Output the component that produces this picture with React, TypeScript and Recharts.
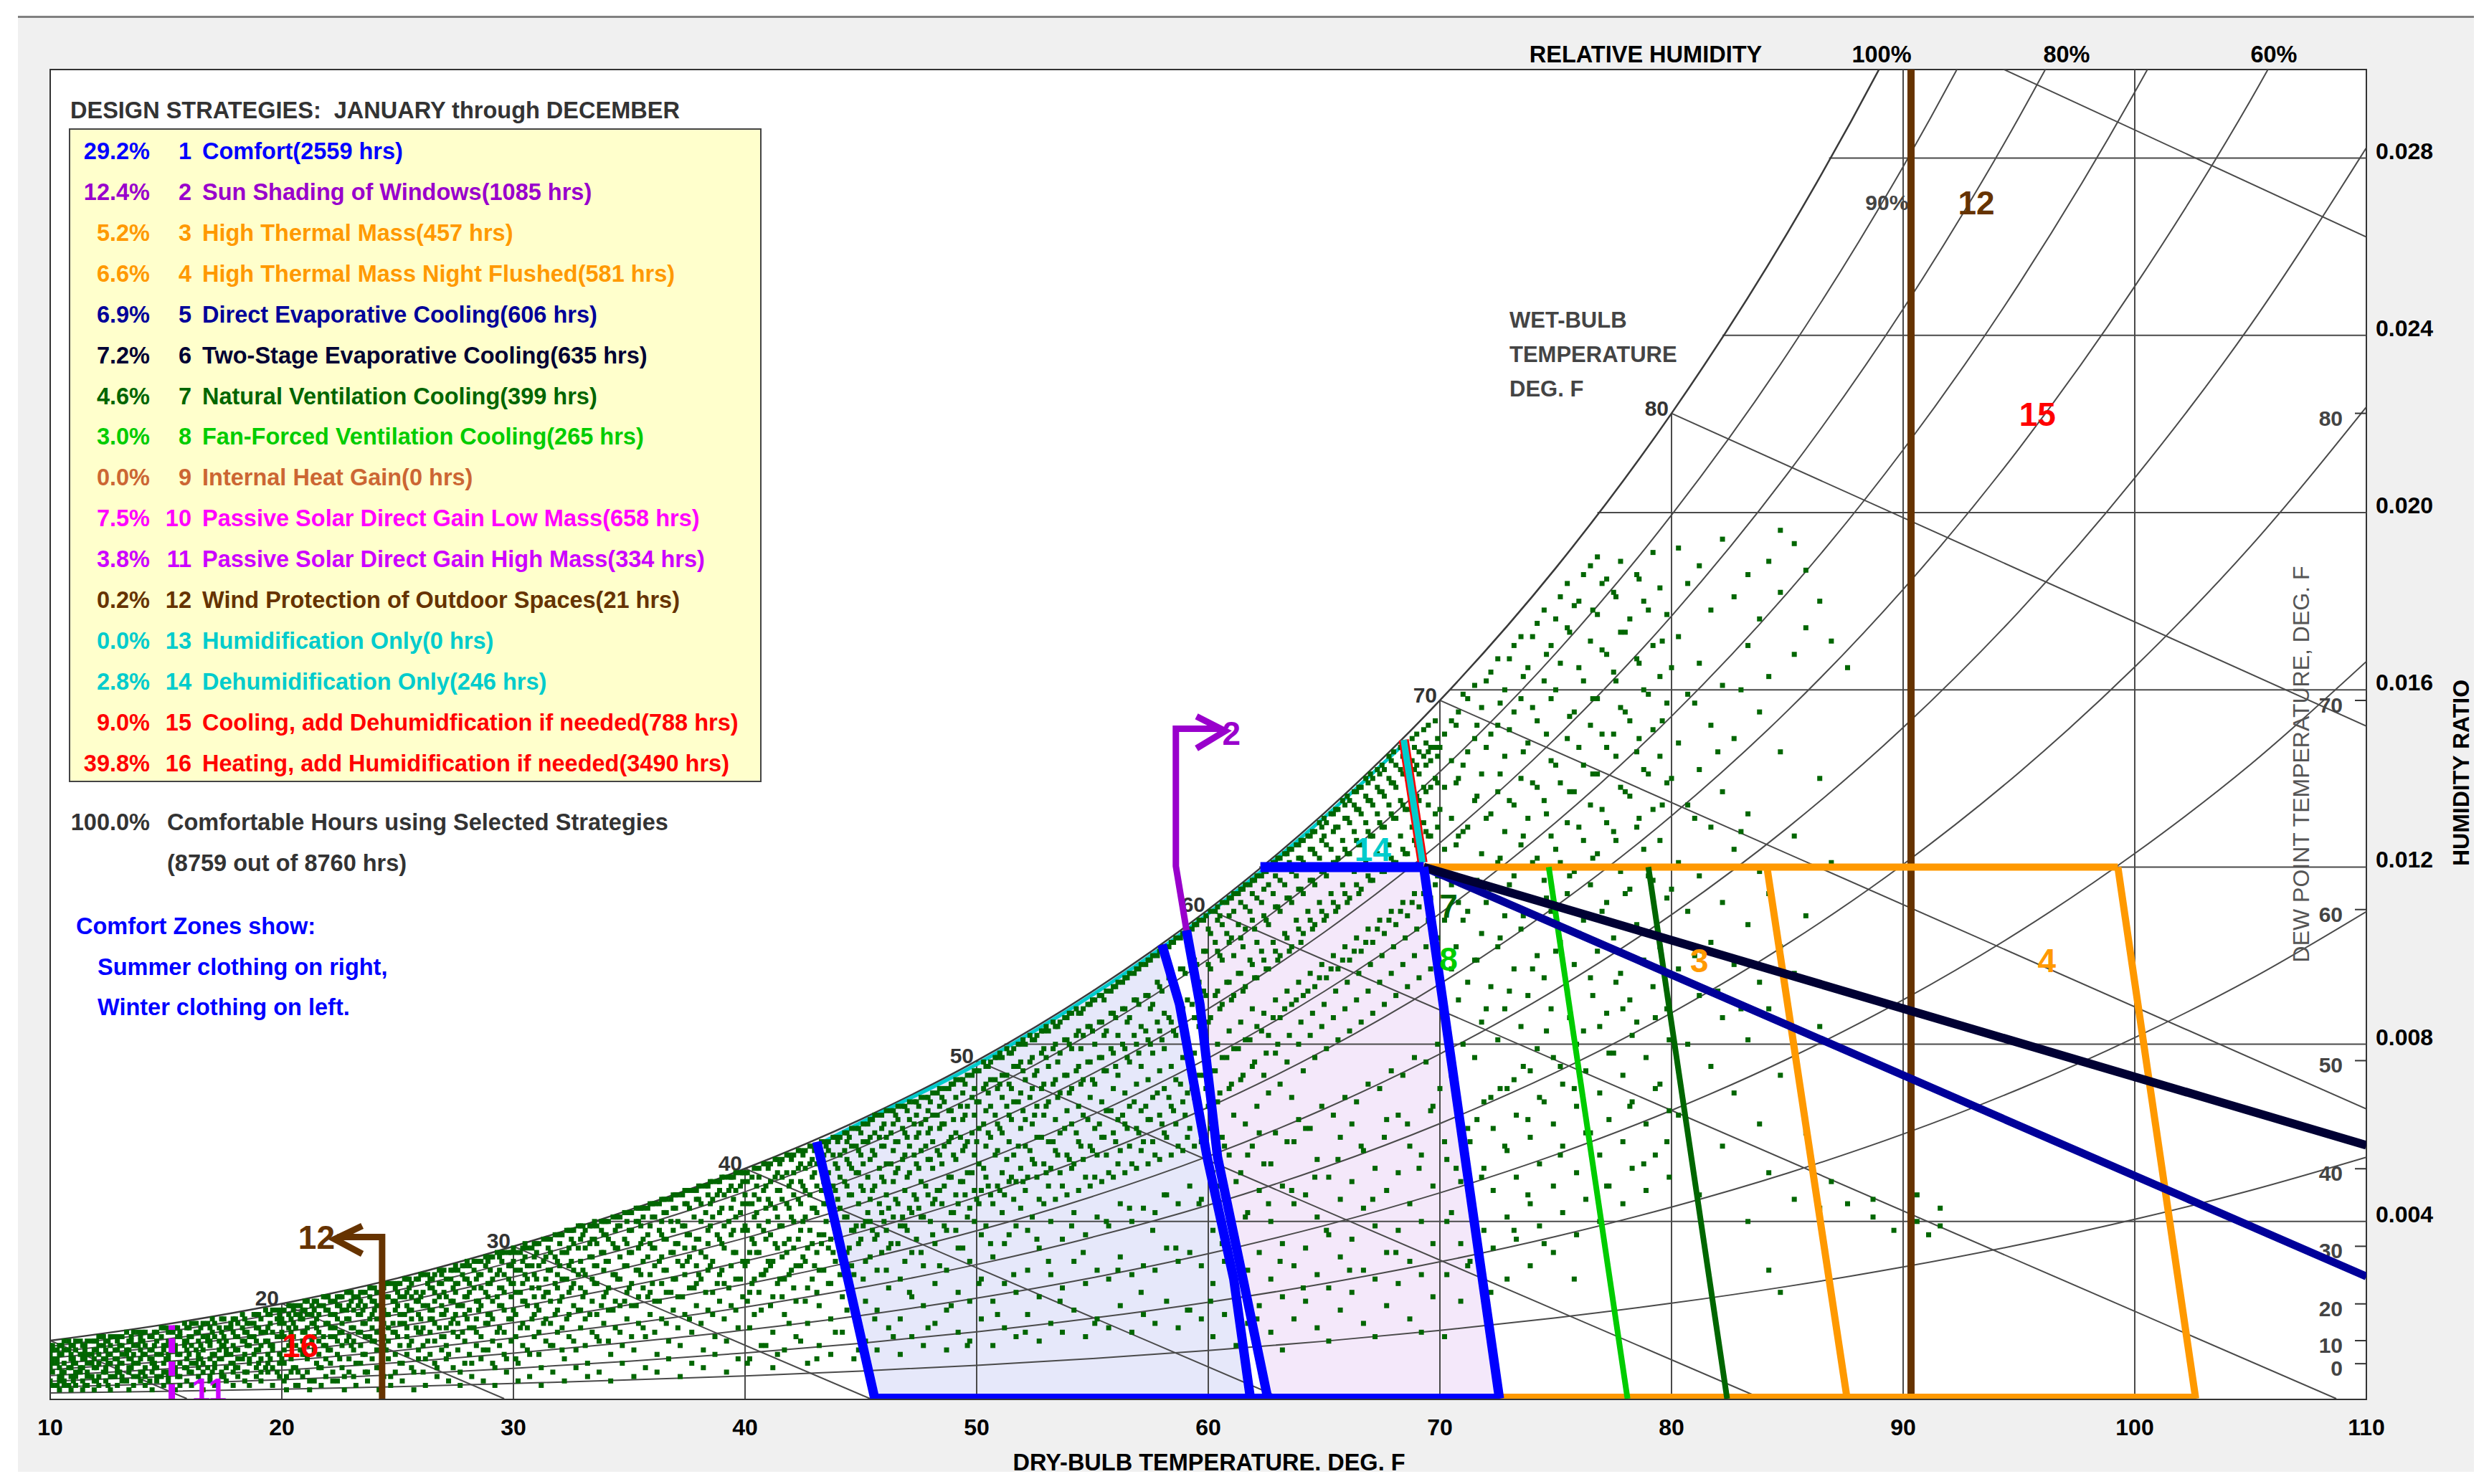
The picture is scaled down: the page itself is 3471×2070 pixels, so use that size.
import React from 'react';
import { ComposedChart, Scatter, XAxis, YAxis, Curve } from 'recharts';

const FONT = '"Liberation Sans", Arial, Helvetica, sans-serif';

// axes
const dryBulbTicks = [10, 20, 30, 40, 50, 60, 70, 80, 90, 100, 110];
const humidityTicks = [0.004, 0.008, 0.012, 0.016, 0.02, 0.024, 0.028];

// dew point scale on the right edge
const dewPointTemps = [0, 10, 20, 30, 40, 50, 60, 70, 80];
const dewPointRatios = [0.00079, 0.00131, 0.00214, 0.00344, 0.00519, 0.00763, 0.01104, 0.01576, 0.02224];

// saturation pressure table (psia) for the relative humidity curves
const tableTemps = [10, 15, 20, 25, 30, 35, 40, 45, 50, 55, 60, 65, 70, 75, 80, 85, 90, 95, 100, 105, 110];
const satPressure = [0.0309, 0.0396, 0.0505, 0.064, 0.0808, 0.0999, 0.1217, 0.1475, 0.178, 0.2141, 0.2563, 0.3057,
  0.3632, 0.43, 0.5073, 0.5964, 0.6988, 0.8162, 0.9503, 1.1022, 1.2763];
const rhLevels = [10, 20, 30, 40, 50, 60, 70, 80, 90];

// grid lines
const dryBulbGrid = [20, 30, 40, 50, 60, 70, 80, 90, 100];
const ratioLineStart = [33.4, 51.2, 62.2, 70.4, 76.8, 82.2, 86.8];
const wetBulbTemps = [10, 20, 30, 40, 50, 60, 70, 80, 90];
const wetBulbEnds = [[15.9, 0], [29.6, 0], [45.4, 0], [63.2, 0], [83.9, 0], [108.7, 0], [110, 0.00654], [110, 0.01518], [110, 0.02622]];
const wetBulbLabels = [20, 30, 40, 50, 60, 70, 80];

// comfort zones
const winterLeft = [[43.1, 0.0058], [45.6, 0]];
const winterRight = [[58.0, 0.01025], [58.76, 0.0089], [59.95, 0.00545], [61.1, 0.0027], [61.82, 0]];
const winterSatEdge = [[43.1, 0.0058], [45, 0.00631], [50, 0.00763], [55, 0.0092], [58.0, 0.01025]];
const summerLeft = [[59.06, 0.01057], [59.64, 0.0089], [60.4, 0.00545], [61.5, 0.0027], [62.57, 0]];
const summerSatEdge = [[59.06, 0.01057], [60, 0.01104], [62.25, 0.012]];
const summerTop = [[62.25, 0.012], [69.3, 0.012]];
const summerRight = [[69.3, 0.012], [72.57, 0]];
const comfortBase = [[45.6, 0], [72.57, 0]];
const dehumidEdge = [[43.1, 0.0058], [45, 0.00631], [50, 0.00763], [55, 0.0092], [60, 0.01104], [65, 0.01321], [68.44, 0.01487]];
const dehumidBand = [[68.44, 0.01487], [69.25, 0.0121]];

// strategy boundaries
const shadingLine = [[59.06, 0.01057], [58.6, 0.01202], [58.6, 0.01512], [60.5, 0.01512]];
const shadingHead = [[59.49, 0.0154], [60.73, 0.01507], [59.49, 0.01468]];
const windLine = [[90.34, 0], [90.34, 0.03]];
const windArrow = [[24.33, 0], [24.33, 0.00365], [22.4, 0.00365]];
const windHead = [[23.47, 0.0039], [22.28, 0.0036], [23.47, 0.00327]];
const solarLine = [[15.25, 0], [15.25, 0.00166]];
const massTop = [[69.3, 0.012], [99.27, 0.012]];
const massRight = [[84.12, 0.012], [87.58, 0]];
const flushRight = [[99.27, 0.012], [102.63, 0]];
const massBase = [[72.57, 0], [102.63, 0]];
const directEvap = [[69.3, 0.012], [110, 0.00276]];
const twoStageEvap = [[69.3, 0.012], [110, 0.00572]];
const naturalVent = [[79.0, 0.012], [82.4, 0]];
const fanVent = [[74.7, 0.012], [78.1, 0]];

// zone numbers on the chart
const zoneLabelText = ['2', '3', '4', '7', '8', '12', '12', '14', '15', '16', '11'];
const zoneLabelAt = [[61.0, 0.01502], [81.2, 0.0099], [96.2, 0.0099], [70.37, 0.01112], [70.37, 0.00993], [93.16, 0.027],
  [21.5, 0.00365], [67.1, 0.0124], [95.8, 0.02223], [20.8, 0.0012], [16.87, 0.0002]];
const zoneLabelColor = ['#9900CC', '#FF9900', '#FF9900', '#006600', '#00CC00', '#663300', '#663300', '#00CCCC', '#FF0000', '#FF0000', '#CC00FF'];

// legend
const strategyNames = ['Comfort', 'Sun Shading of Windows', 'High Thermal Mass', 'High Thermal Mass Night Flushed',
  'Direct Evaporative Cooling', 'Two-Stage Evaporative Cooling', 'Natural Ventilation Cooling', 'Fan-Forced Ventilation Cooling',
  'Internal Heat Gain', 'Passive Solar Direct Gain Low Mass', 'Passive Solar Direct Gain High Mass', 'Wind Protection of Outdoor Spaces',
  'Humidification Only', 'Dehumidification Only', 'Cooling, add Dehumidfication if needed', 'Heating, add Humidification if needed'];
const strategyHours = [2559, 1085, 457, 581, 606, 635, 399, 265, 0, 658, 334, 21, 0, 246, 788, 3490];
const strategyPercent = ['29.2%', '12.4%', '5.2%', '6.6%', '6.9%', '7.2%', '4.6%', '3.0%', '0.0%', '7.5%', '3.8%', '0.2%', '0.0%', '2.8%', '9.0%', '39.8%'];
const strategyColors = ['#0000FF', '#9900CC', '#FF9900', '#FF9900', '#000099', '#000033', '#006600', '#00CC00', '#CC6633',
  '#FF00FF', '#CC00FF', '#663300', '#00CCCC', '#00CCCC', '#FF0000', '#FF0000'];

// hourly weather points: [dry-bulb, humidity ratio x 10000 ...]
const cloudCold = [
  [10.1, 3, 6, 9, 11, 12, 8], [10.4, 2, 5, 7, 10, 12, 4], [10.6, 4, 6, 8, 11, 13, 3], [10.9, 2, 5, 9, 10, 12, 7],
  [11.1, 3, 6, 8, 11, 13, 5], [11.4, 2, 4, 7, 9, 12, 10], [11.6, 5, 6, 8, 10, 13, 3], [11.9, 2, 4, 7, 9, 11, 13],
  [12.1, 3, 5, 8, 10, 12, 14], [12.4, 4, 6, 7, 9, 11, 13], [12.6, 2, 5, 8, 10, 12, 14], [12.9, 3, 6, 7, 9, 11, 13],
  [13.1, 4, 5, 8, 10, 12, 14], [13.4, 2, 6, 7, 9, 11, 13], [13.6, 3, 5, 8, 10, 12, 15], [13.9, 4, 6, 9, 11, 13, 14],
  [14.1, 3, 5, 7, 10, 12, 15], [14.4, 2, 6, 8, 9, 11, 14], [14.6, 4, 5, 7, 10, 13, 15], [14.9, 3, 6, 8, 11, 12, 16],
  [15.1, 4, 5, 9, 10, 13, 15], [15.4, 2, 6, 7, 11, 12, 16], [15.6, 3, 5, 8, 10, 14, 15], [15.9, 4, 7, 9, 11, 13, 16],
  [16.1, 3, 6, 8, 12, 14, 17], [16.4, 5, 7, 9, 10, 13, 15], [16.6, 2, 6, 8, 11, 14, 17], [16.9, 4, 5, 9, 12, 13, 16],
  [17.1, 3, 7, 8, 10, 14, 17], [17.4, 5, 6, 9, 12, 15, 18], [17.6, 4, 7, 10, 11, 13, 16], [17.9, 3, 6, 8, 12, 15, 18],
  [18.1, 5, 7, 9, 11, 14, 17], [18.4, 4, 6, 10, 13, 15, 18], [18.6, 3, 8, 9, 12, 14, 17], [18.9, 5, 7, 11, 13, 16, 19],
  [19.1, 4, 6, 9, 12, 15, 18], [19.4, 6, 8, 10, 13, 16, 19], [19.6, 3, 7, 11, 12, 15, 20], [19.9, 5, 8, 10, 14, 17, 19],
  [10.0, 4, 7, 10, 12], [10.3, 3, 8, 9, 11], [10.5, 5, 6, 10, 12], [10.8, 3, 7, 11, 13],
  [11.0, 4, 8, 9, 12], [11.3, 6, 7, 10, 13], [11.5, 3, 9, 11, 12], [11.8, 5, 8, 10, 13],
  [12.0, 4, 7, 11, 13], [12.3, 6, 9, 12, 14], [12.5, 3, 8, 10, 13], [12.8, 5, 9, 11, 14],
  [13.0, 6, 8, 12, 14], [13.3, 4, 10, 11, 15], [13.5, 7, 9, 13, 14], [13.8, 5, 8, 12, 15],
  [14.0, 6, 10, 13, 15], [14.3, 4, 9, 11, 14], [14.5, 7, 8, 12, 15], [14.8, 5, 10, 14, 16],
  [15.0, 6, 9, 12, 16], [15.3, 8, 11, 13, 15], [15.5, 5, 10, 14, 16], [15.8, 7, 12, 13, 17],
  [16.0, 6, 10, 14, 16], [16.3, 8, 11, 15, 17], [16.5, 4, 9, 12, 16], [16.8, 7, 13, 14, 17],
  [17.0, 6, 10, 15, 18], [17.3, 9, 11, 13, 16], [17.5, 5, 12, 14, 18], [17.8, 8, 10, 16, 17],
  [18.0, 7, 11, 14, 18], [18.3, 9, 13, 16, 19], [18.5, 6, 12, 15, 17], [18.8, 10, 14, 17, 19],
  [19.0, 8, 11, 16, 19], [19.3, 7, 13, 15, 20], [19.5, 9, 12, 17, 19], [19.8, 6, 14, 18, 20],
];
const cloudCool = [
  [20.1, 4, 8, 11, 14, 17, 20], [20.4, 6, 9, 13, 15, 18, 21], [20.6, 3, 7, 12, 16, 19, 21], [20.9, 5, 10, 13, 15, 18, 20],
  [21.1, 6, 9, 12, 16, 19, 22], [21.4, 4, 11, 14, 17, 20, 22], [21.6, 7, 10, 13, 15, 19, 21], [21.9, 5, 9, 12, 17, 20, 23],
  [22.1, 8, 11, 14, 16, 19, 22], [22.4, 4, 10, 13, 18, 21, 23], [22.6, 7, 12, 15, 17, 20, 23], [22.9, 6, 9, 14, 18, 21, 24],
  [23.1, 5, 11, 13, 16, 20, 23], [23.4, 8, 12, 15, 19, 22, 24], [23.6, 6, 10, 14, 17, 21, 24], [23.9, 9, 13, 16, 19, 22, 25],
  [24.1, 7, 11, 15, 18, 21, 24], [24.4, 5, 12, 14, 17, 20, 25], [24.6, 9, 13, 16, 19, 23, 26], [24.9, 6, 10, 15, 20, 22, 25],
  [25.1, 8, 12, 17, 19, 23, 26], [25.4, 10, 14, 16, 21, 24, 27], [25.6, 7, 13, 18, 20, 23, 26], [25.9, 9, 11, 15, 19, 22, 27],
  [26.1, 6, 12, 16, 21, 24, 28], [26.4, 10, 15, 18, 20, 25, 27], [26.6, 8, 13, 17, 22, 24, 28], [26.9, 11, 14, 19, 21, 26, 28],
  [27.1, 9, 12, 16, 20, 23, 27], [27.4, 7, 15, 18, 22, 25, 29], [27.6, 11, 14, 17, 21, 26, 29], [27.9, 8, 13, 19, 23, 27, 30],
  [28.1, 10, 16, 20, 24, 26, 30], [28.4, 12, 15, 18, 22, 27, 31], [28.6, 9, 14, 21, 25, 28, 31], [28.9, 11, 17, 19, 23, 26, 31],
  [29.1, 8, 13, 18, 22, 27, 32], [29.4, 12, 16, 21, 25, 29, 32], [29.6, 10, 15, 20, 24, 28, 33], [29.9, 13, 18, 23, 26, 30, 33],
  [30.1, 9, 14, 19, 24, 29, 33], [30.4, 12, 17, 22, 26, 31, 34], [30.6, 11, 16, 21, 27, 30, 34], [30.9, 14, 19, 23, 28, 32, 35],
  [31.1, 10, 15, 20, 25, 30, 35], [31.4, 13, 18, 24, 27, 32, 36], [31.6, 12, 17, 22, 29, 33, 36], [31.9, 15, 20, 25, 28, 31, 37],
  [32.1, 11, 16, 23, 27, 33, 37], [32.4, 14, 19, 24, 30, 34, 38], [32.6, 13, 21, 26, 29, 35, 38], [32.9, 16, 20, 25, 31, 36, 39],
  [33.1, 12, 18, 24, 28, 34, 38], [33.4, 15, 22, 27, 32, 36, 39], [33.6, 14, 19, 26, 30, 35, 39], [33.9, 17, 23, 29, 33, 37, 40],
  [34.1, 13, 20, 25, 31, 36, 40], [34.4, 16, 22, 28, 34, 38, 41], [34.6, 15, 21, 27, 32, 39, 41], [34.9, 18, 24, 30, 35, 40, 42],
  [35.1, 14, 21, 26, 33, 38, 42], [35.4, 17, 23, 29, 34, 40, 43], [35.6, 16, 25, 31, 36, 41, 43], [35.9, 19, 24, 28, 35, 39, 44],
  [36.1, 15, 22, 30, 34, 41, 44], [36.4, 18, 26, 32, 37, 40, 45], [36.6, 17, 24, 29, 36, 42, 45], [36.9, 20, 27, 33, 38, 43, 46],
  [37.1, 16, 23, 31, 35, 40, 46], [37.4, 19, 28, 34, 39, 44, 47], [37.6, 18, 25, 32, 37, 43, 47], [37.9, 21, 26, 30, 36, 45, 47],
  [38.1, 17, 27, 33, 40, 44, 48], [38.4, 20, 29, 35, 38, 46, 48], [38.6, 19, 24, 31, 41, 45, 49], [38.9, 22, 28, 36, 42, 47, 49],
  [39.1, 18, 26, 34, 39, 46, 50], [39.4, 21, 30, 37, 43, 48, 50], [39.6, 20, 27, 33, 41, 47, 51], [39.9, 23, 31, 38, 44, 49, 51],
  [20.0, 9, 15, 18, 20], [20.3, 12, 16, 19, 21], [20.5, 7, 14, 17, 20], [20.8, 11, 18, 19, 21],
  [21.0, 10, 15, 20, 22], [21.3, 13, 17, 19, 21], [21.5, 8, 16, 18, 22], [21.8, 12, 14, 21, 23],
  [22.0, 11, 17, 20, 23], [22.3, 14, 16, 19, 22], [22.5, 9, 15, 21, 23], [22.8, 13, 18, 20, 24],
  [23.0, 12, 16, 22, 24], [23.3, 15, 19, 21, 23], [23.5, 10, 17, 20, 24], [23.8, 14, 18, 23, 25],
  [24.0, 13, 20, 22, 25], [24.3, 16, 18, 21, 24], [24.5, 11, 19, 23, 26], [24.8, 15, 17, 22, 26],
  [25.0, 14, 21, 24, 26], [25.3, 17, 19, 23, 27], [25.5, 12, 20, 25, 27], [25.8, 16, 22, 24, 27],
  [26.0, 15, 18, 23, 28], [26.3, 13, 21, 26, 28], [26.5, 18, 20, 25, 27], [26.8, 16, 23, 26, 29],
  [27.0, 14, 19, 24, 29], [27.3, 17, 22, 27, 29], [27.5, 19, 24, 26, 30], [27.8, 15, 21, 28, 30],
  [28.0, 18, 23, 27, 31], [28.3, 16, 25, 29, 31], [28.5, 20, 22, 28, 31], [28.8, 17, 24, 30, 32],
  [29.0, 19, 26, 29, 32], [29.3, 15, 23, 28, 33], [29.5, 21, 25, 31, 33], [29.8, 18, 27, 30, 33],
  [30.0, 20, 26, 31, 34], [30.3, 16, 24, 29, 33], [30.5, 22, 28, 32, 35], [30.8, 18, 25, 30, 34],
  [31.0, 21, 27, 33, 35], [31.3, 17, 23, 31, 36], [31.5, 24, 29, 34, 36], [31.8, 19, 26, 32, 37],
  [32.0, 22, 30, 35, 37], [32.3, 18, 27, 33, 38], [32.5, 25, 31, 36, 38], [32.8, 20, 28, 34, 39],
  [33.0, 23, 29, 37, 39], [33.3, 19, 32, 35, 39], [33.5, 26, 30, 36, 40], [33.8, 21, 33, 38, 40],
  [34.0, 24, 31, 37, 40], [34.3, 20, 28, 35, 41], [34.5, 27, 34, 39, 41], [34.8, 22, 30, 36, 42],
  [35.0, 25, 33, 38, 42], [35.3, 21, 29, 40, 43], [35.5, 28, 35, 39, 43], [35.8, 23, 32, 37, 43],
  [36.0, 26, 34, 41, 44], [36.3, 22, 31, 38, 44], [36.5, 29, 36, 42, 45], [36.8, 24, 33, 40, 45],
  [37.0, 27, 35, 43, 46], [37.3, 23, 30, 39, 46], [37.5, 31, 37, 44, 47], [37.8, 25, 34, 41, 47],
  [38.0, 28, 36, 45, 48], [38.3, 24, 32, 42, 48], [38.5, 30, 39, 44, 49], [38.8, 26, 37, 46, 49],
  [39.0, 29, 35, 43, 50], [39.3, 25, 40, 47, 50], [39.5, 33, 38, 45, 50], [39.8, 27, 42, 48, 51],
];
const cloudMild = [
  [40.1, 8, 22, 31, 38, 44, 49, 51], [40.4, 19, 27, 35, 41, 46, 52], [40.6, 24, 33, 39, 45, 50, 52], [40.9, 12, 29, 36, 43, 48, 53],
  [41.1, 21, 30, 37, 44, 49, 53], [41.4, 10, 26, 34, 41, 47, 51, 54], [41.6, 23, 32, 39, 45, 50, 54], [41.9, 17, 28, 36, 43, 48, 55],
  [42.1, 25, 34, 40, 46, 51, 55], [42.4, 13, 30, 38, 44, 49, 53, 56], [42.6, 22, 31, 41, 47, 52, 56], [42.9, 27, 35, 43, 50, 54, 57],
  [43.1, 9, 24, 33, 42, 48, 53, 57], [43.4, 29, 37, 44, 49, 55, 58], [43.6, 26, 34, 45, 51, 56, 58], [43.9, 15, 31, 39, 47, 53, 59],
  [44.1, 28, 36, 43, 50, 55, 59], [44.4, 20, 33, 41, 48, 54, 58, 60], [44.6, 30, 38, 46, 52, 57, 61], [44.9, 11, 35, 44, 51, 56, 61],
  [45.1, 27, 39, 47, 53, 58, 62], [45.4, 32, 40, 45, 54, 59, 63], [45.6, 18, 36, 48, 55, 60, 64], [45.9, 33, 42, 50, 57, 61, 64],
  [46.1, 29, 38, 46, 53, 59, 65], [46.4, 14, 41, 49, 56, 62, 65], [46.6, 35, 44, 52, 58, 63, 66], [46.9, 31, 39, 47, 55, 60, 66],
  [47.1, 24, 43, 51, 57, 63, 67], [47.4, 36, 45, 53, 59, 64, 67], [47.6, 33, 41, 49, 56, 62, 68], [47.9, 16, 46, 54, 60, 65, 68],
  [48.1, 37, 44, 52, 58, 64, 69], [48.4, 30, 47, 55, 61, 66, 70], [48.6, 39, 48, 57, 62, 67, 70], [48.9, 21, 42, 50, 59, 65, 71],
  [49.1, 38, 46, 54, 60, 68, 72], [49.4, 34, 49, 56, 63, 69, 72], [49.6, 12, 41, 51, 58, 66, 73], [49.9, 40, 47, 55, 64, 70, 74],
  [50.1, 26, 44, 53, 61, 67, 74], [50.4, 39, 50, 57, 65, 71, 75], [50.6, 35, 46, 59, 66, 72, 76], [50.9, 19, 48, 56, 62, 70, 77],
  [51.1, 42, 51, 60, 68, 73, 77], [51.4, 37, 49, 58, 64, 71, 78], [51.6, 28, 45, 55, 67, 75, 79], [51.9, 43, 52, 61, 69, 76, 80],
  [52.1, 15, 47, 57, 63, 72, 80], [52.4, 41, 54, 62, 70, 77, 81], [52.6, 36, 50, 59, 66, 74, 82], [52.9, 44, 53, 64, 71, 79, 83],
  [53.1, 31, 48, 58, 67, 75, 83], [53.4, 45, 56, 63, 72, 80, 84], [53.6, 22, 51, 60, 69, 78, 85], [53.9, 46, 55, 65, 73, 81, 86],
  [54.1, 39, 52, 62, 70, 79, 87], [54.4, 47, 58, 66, 75, 83, 87], [54.6, 33, 54, 64, 72, 82, 88], [54.9, 48, 57, 68, 76, 84, 89],
  [55.1, 17, 50, 61, 71, 80, 90], [55.4, 49, 59, 67, 77, 85, 91], [55.6, 40, 55, 65, 74, 83, 92], [55.9, 50, 60, 70, 78, 87, 93],
  [56.1, 29, 53, 63, 73, 82, 94], [56.4, 51, 62, 69, 79, 88, 95], [56.6, 43, 57, 66, 76, 86, 96], [56.9, 52, 61, 71, 80, 90, 97],
  [57.1, 24, 56, 65, 75, 84, 98], [57.4, 53, 63, 72, 81, 91, 99], [57.6, 38, 58, 68, 78, 89, 100], [57.9, 54, 64, 74, 83, 93, 101],
  [58.1, 46, 60, 70, 79, 87, 102], [58.4, 55, 66, 75, 85, 95, 103], [58.6, 34, 62, 72, 82, 92, 104], [58.9, 56, 67, 77, 88, 97, 105],
  [59.1, 20, 59, 69, 80, 90, 106], [59.4, 57, 68, 78, 86, 99, 107], [59.6, 44, 63, 73, 84, 94, 108], [59.9, 58, 70, 81, 91, 101, 109],
  [40.0, 30, 39, 46, 51], [40.3, 26, 36, 44, 50], [40.5, 33, 42, 48, 52], [40.8, 28, 38, 47, 53],
  [41.0, 31, 40, 45, 52], [41.3, 35, 43, 50, 54], [41.5, 27, 39, 47, 53], [41.8, 33, 44, 51, 55],
  [42.0, 29, 41, 49, 54], [42.3, 36, 45, 52, 56], [42.5, 32, 40, 48, 55], [42.8, 38, 46, 53, 57],
  [43.0, 30, 43, 51, 56], [43.3, 35, 47, 54, 58], [43.5, 40, 44, 50, 57], [43.8, 33, 48, 55, 59],
  [44.0, 37, 45, 52, 58], [44.3, 41, 49, 56, 60], [44.5, 34, 46, 53, 59], [44.8, 39, 51, 57, 61],
  [45.0, 36, 48, 55, 60], [45.3, 42, 50, 58, 62], [45.5, 38, 47, 56, 63], [45.8, 44, 52, 59, 64],
  [46.0, 40, 49, 57, 62], [46.3, 35, 53, 60, 65], [46.5, 45, 51, 58, 64], [46.8, 41, 54, 61, 66],
  [47.0, 38, 50, 59, 65], [47.3, 46, 55, 62, 67], [47.5, 43, 52, 60, 66], [47.8, 48, 57, 63, 68],
  [48.0, 40, 54, 61, 67], [48.3, 47, 56, 64, 69], [48.5, 44, 53, 62, 68], [48.8, 50, 58, 65, 70],
  [49.0, 42, 55, 63, 71], [49.3, 49, 59, 66, 72], [49.5, 46, 57, 64, 71], [49.8, 51, 60, 68, 73],
  [50.0, 45, 58, 67, 74], [50.3, 52, 62, 70, 76], [50.5, 48, 60, 69, 75], [50.8, 55, 64, 72, 77],
  [51.0, 47, 61, 71, 78], [51.3, 54, 66, 73, 79], [51.5, 50, 63, 70, 78], [51.8, 57, 67, 75, 80],
  [52.0, 49, 65, 74, 81], [52.3, 56, 68, 76, 82], [52.5, 53, 64, 73, 81], [52.8, 59, 70, 78, 83],
  [53.0, 51, 66, 77, 84], [53.3, 58, 71, 79, 85], [53.5, 55, 68, 76, 84], [53.8, 61, 73, 81, 86],
  [54.0, 54, 69, 80, 87], [54.3, 60, 74, 82, 88], [54.5, 57, 71, 79, 87], [54.8, 63, 76, 84, 89],
  [55.0, 56, 72, 83, 90], [55.3, 62, 77, 85, 91], [55.5, 59, 74, 82, 90], [55.8, 65, 79, 87, 92],
  [56.0, 58, 75, 86, 93], [56.3, 64, 80, 88, 94], [56.5, 61, 77, 85, 95], [56.8, 67, 82, 90, 96],
  [57.0, 60, 78, 89, 97], [57.3, 66, 83, 91, 98], [57.5, 63, 80, 88, 99], [57.8, 69, 85, 94, 100],
  [58.0, 62, 81, 92, 101], [58.3, 68, 86, 95, 102], [58.5, 65, 83, 93, 103], [58.8, 71, 88, 97, 104],
  [59.0, 64, 84, 96, 105], [59.3, 70, 89, 99, 106], [59.5, 67, 86, 98, 107], [59.8, 73, 92, 101, 108],
];
const cloudWarm = [
  [60.1, 22, 61, 74, 86, 97, 105, 110], [60.4, 48, 67, 80, 92, 101, 108, 111], [60.6, 35, 59, 77, 89, 99, 107, 112], [60.9, 55, 70, 83, 94, 103, 109, 113],
  [61.1, 28, 64, 79, 91, 100, 110, 114], [61.4, 51, 72, 85, 96, 104, 112, 115], [61.6, 41, 62, 81, 93, 106, 111, 116], [61.9, 57, 75, 88, 98, 108, 114, 117],
  [62.1, 18, 66, 84, 95, 103, 113, 118], [62.4, 53, 73, 87, 99, 109, 115, 119], [62.6, 44, 69, 82, 97, 107, 116, 120], [62.9, 60, 78, 90, 101, 111, 118, 121],
  [63.1, 31, 71, 86, 100, 110, 117, 122], [63.4, 58, 76, 92, 104, 113, 120, 123], [63.6, 47, 68, 89, 102, 112, 119, 124], [63.9, 63, 80, 94, 106, 115, 122, 125],
  [64.1, 25, 74, 91, 105, 114, 121, 126], [64.4, 61, 82, 96, 108, 117, 124, 127], [64.6, 50, 77, 93, 107, 116, 123, 128], [64.9, 66, 84, 98, 110, 119, 126, 129],
  [65.1, 38, 79, 95, 109, 118, 125, 130], [65.4, 64, 86, 100, 112, 121, 128, 132], [65.6, 54, 81, 97, 111, 122, 129, 133], [65.9, 68, 88, 102, 114, 124, 131, 134],
  [66.1, 29, 83, 99, 113, 123, 130, 135], [66.4, 67, 90, 104, 116, 126, 133, 137], [66.6, 57, 85, 101, 115, 125, 132, 138], [66.9, 71, 92, 106, 118, 128, 135, 139],
  [67.1, 45, 87, 103, 117, 127, 134, 140], [67.4, 70, 94, 108, 120, 130, 137, 141], [67.6, 59, 89, 105, 119, 129, 136, 142], [67.9, 74, 96, 110, 122, 132, 139, 144],
  [68.1, 33, 91, 107, 121, 131, 138, 143], [68.4, 73, 98, 112, 124, 134, 141, 145], [68.6, 62, 93, 109, 123, 133, 140, 146], [68.9, 77, 100, 114, 126, 136, 142, 147],
  [69.1, 52, 95, 111, 125, 135, 141, 146], [69.4, 76, 102, 116, 128, 137, 143, 148], [69.6, 65, 97, 113, 127, 138, 144, 147], [69.9, 80, 104, 118, 129, 139, 145, 149],
  [60.0, 66, 85, 98, 106], [60.3, 74, 91, 103, 110], [60.5, 69, 88, 100, 109], [60.8, 77, 94, 105, 112],
  [61.0, 71, 90, 104, 113], [61.3, 79, 96, 107, 114], [61.5, 73, 92, 102, 115], [61.8, 81, 99, 110, 116],
  [62.0, 76, 95, 106, 117], [62.3, 83, 101, 112, 118], [62.5, 78, 97, 108, 119], [62.8, 86, 103, 114, 121],
  [63.0, 80, 99, 111, 120, 122], [63.3, 88, 105, 116, 123], [63.5, 82, 101, 113, 121, 124], [63.8, 90, 108, 118, 125],
  [64.0, 85, 103, 115, 122, 126], [64.3, 92, 110, 120, 127], [64.5, 87, 106, 117, 124, 128], [64.8, 95, 112, 122, 130],
  [65.0, 89, 108, 119, 127, 131], [65.3, 97, 114, 124, 132], [65.5, 92, 110, 121, 129, 133], [65.8, 99, 116, 126, 135],
  [66.0, 94, 112, 123, 131, 136], [66.3, 101, 119, 128, 134, 137], [66.5, 96, 114, 125, 133, 138], [66.8, 103, 121, 130, 136, 140],
  [67.0, 98, 117, 127, 135, 141], [67.3, 106, 123, 132, 138, 142], [67.5, 100, 119, 129, 137, 143], [67.8, 108, 125, 134, 140, 145],
  [68.0, 102, 121, 131, 139, 146], [68.3, 110, 127, 135, 142, 147], [68.5, 104, 123, 133, 141, 148], [68.8, 112, 129, 137, 144, 149],
  [69.0, 106, 125, 136, 143, 150], [69.3, 114, 130, 138, 145, 151], [69.5, 108, 127, 134, 146, 152], [69.8, 116, 132, 140, 147, 153],
];
const cloudHot = [
  [70.2, 14, 58, 86, 108, 124, 138, 150], [70.5, 42, 73, 97, 116, 131, 144, 153], [70.8, 65, 90, 112, 127, 140, 155],
  [71.2, 30, 61, 94, 110, 129, 146, 158], [71.5, 77, 99, 120, 135, 149, 161], [71.8, 50, 85, 105, 123, 141, 156],
  [72.2, 24, 68, 93, 115, 132, 150, 164], [72.5, 81, 102, 121, 137, 152, 167], [72.8, 57, 88, 109, 128, 145, 160],
  [73.2, 38, 72, 97, 118, 134, 155, 170], [73.5, 84, 106, 125, 140, 158, 172], [73.8, 46, 63, 91, 113, 131, 148, 165],
  [74.2, 79, 100, 122, 138, 153, 175], [74.5, 35, 67, 95, 117, 135, 162, 178], [74.8, 88, 110, 127, 144, 158, 170],
  [75.2, 55, 75, 103, 121, 139, 166, 181], [75.5, 92, 114, 130, 149, 174, 184], [75.8, 27, 70, 98, 119, 137, 155, 179],
  [76.2, 83, 108, 126, 143, 162, 186], [76.5, 60, 95, 116, 134, 152, 171, 188], [76.8, 101, 123, 141, 158, 177, 190],
  [77.2, 48, 87, 112, 130, 147, 168, 185], [77.5, 78, 104, 128, 150, 164, 182], [77.8, 96, 119, 138, 156, 173, 189],
  [78.2, 66, 90, 115, 136, 153, 176], [78.5, 85, 107, 129, 146, 167, 186], [78.8, 53, 99, 124, 142, 160, 180],
  [79.2, 93, 117, 133, 151, 170, 191], [79.5, 71, 102, 126, 145, 163, 183], [79.8, 58, 88, 113, 139, 157, 177],
  [80.3, 64, 97, 121, 148, 172, 192], [80.7, 80, 110, 134, 159, 184],
  [81.2, 46, 91, 118, 142, 166, 188], [81.7, 75, 103, 129, 152, 178],
  [82.2, 57, 86, 112, 137, 161, 194], [82.7, 69, 98, 124, 149, 181],
  [83.3, 40, 81, 107, 132, 170, 186], [83.8, 62, 94, 119, 155, 176],
  [84.2, 29, 51, 88, 114, 163, 189], [84.7, 24, 73, 102, 146, 182, 196],
  [85.3, 45, 96, 127, 168, 193], [85.8, 60, 109, 174, 187],
  [86.4, 43, 84, 140, 180], [86.9, 49, 121, 171], [87.6, 44, 92, 165],
  [88.7, 41, 45], [89.6, 38], [90.6, 46, 40], [91.1, 37], [91.6, 43, 39],
  [70.0, 70, 95, 118, 133, 147], [70.7, 52, 102, 125, 139, 152],
  [71.0, 80, 108, 128, 143, 159], [71.6, 63, 99, 117, 136, 152],
  [72.0, 88, 112, 131, 147, 162], [72.6, 70, 104, 122, 141, 157],
  [73.0, 92, 116, 135, 151, 167], [73.6, 75, 109, 127, 146, 163],
  [74.0, 97, 121, 139, 156, 172], [74.6, 83, 113, 132, 150, 168],
  [75.0, 101, 124, 143, 160, 176], [75.6, 86, 118, 137, 154, 173],
  [76.0, 105, 129, 147, 165, 180], [76.6, 91, 122, 141, 158, 178],
  [77.0, 110, 133, 150, 169, 184], [77.6, 94, 126, 145, 162, 181],
  [78.0, 114, 137, 155, 173], [78.6, 99, 131, 149, 166, 185],
  [79.0, 118, 141, 159, 178], [79.6, 104, 134, 153, 171],
  [80.0, 115, 140, 165], [81.0, 100, 131, 157], [82.0, 92, 120, 146], [83.0, 88, 128, 160],
];
const cloudLow = [
  [20.2, 2, 5], [20.7, 3, 6], [21.2, 2, 4], [21.7, 3, 7], [22.2, 4, 6], [22.7, 2, 5], [23.2, 3, 8], [23.7, 4, 6], [24.2, 2, 7], [24.7, 3, 5],
  [25.2, 4, 8], [25.7, 2, 6], [26.2, 3, 9], [26.7, 5, 7], [27.2, 4, 10], [27.7, 3, 6], [28.2, 5, 8], [28.7, 4, 11], [29.2, 3, 7], [29.7, 6, 9],
  [30.2, 4, 8], [30.7, 5, 10], [31.2, 3, 7], [31.7, 6, 12], [32.2, 4, 9], [32.7, 7, 11], [33.2, 5, 8], [33.7, 6, 13], [34.2, 4, 10], [34.7, 8, 12],
  [35.2, 5, 11], [35.7, 7, 14], [36.2, 6, 10], [36.7, 9, 13], [37.2, 5, 12], [37.7, 8, 15], [38.2, 7, 11], [38.7, 10, 14], [39.2, 6, 13], [39.7, 9, 16],
  [40.2, 9, 16, 24, 33], [40.7, 12, 20, 28], [41.2, 7, 15, 23, 31], [41.7, 11, 19, 27, 35],
  [42.2, 14, 22, 30], [42.7, 8, 17, 25, 34], [43.2, 12, 21, 29, 37], [43.7, 10, 18, 26, 36],
  [44.2, 15, 23, 32], [44.7, 9, 19, 28, 38], [45.2, 13, 22, 31, 40], [45.7, 11, 20, 29, 37],
  [46.2, 16, 25, 34, 43], [46.7, 10, 18, 27, 39], [47.2, 14, 23, 33, 42], [47.7, 12, 21, 30, 41],
  [48.2, 17, 26, 35, 45], [48.7, 11, 20, 29, 38], [49.2, 15, 24, 34, 44], [49.7, 13, 22, 31, 43],
  [50.2, 18, 27, 37, 47], [50.7, 12, 22, 32, 44], [51.2, 16, 26, 35, 46], [51.7, 14, 24, 39, 49],
  [52.2, 19, 29, 38, 50], [52.7, 13, 23, 34, 45], [53.2, 17, 28, 40, 52], [53.7, 15, 25, 36, 48],
  [54.2, 20, 31, 42, 53], [54.7, 14, 26, 37, 50], [55.2, 18, 29, 41, 55], [55.7, 16, 27, 39, 51],
  [56.2, 21, 32, 44, 56], [56.7, 15, 28, 40, 53], [57.2, 19, 30, 43, 58], [57.7, 17, 29, 42, 55],
  [58.2, 22, 34, 46, 59], [58.7, 16, 31, 44, 57], [59.2, 20, 33, 48, 61], [59.7, 18, 30, 45, 58],
  [60.2, 14, 26, 38, 51], [60.7, 19, 31, 45, 57], [61.2, 12, 24, 36, 49], [61.7, 17, 29, 42, 55],
  [62.2, 21, 33, 47, 60], [62.7, 15, 27, 40, 53], [63.2, 11, 23, 35, 48], [63.7, 18, 30, 44, 58],
  [64.2, 22, 34, 46, 61], [64.7, 16, 28, 41, 54], [65.2, 13, 25, 37, 50], [65.7, 20, 32, 45, 59],
  [66.2, 24, 36, 49, 62], [66.7, 17, 29, 43, 56], [67.2, 14, 27, 39, 52], [67.7, 21, 33, 47, 63],
  [68.2, 26, 38, 51, 64], [68.7, 18, 31, 44, 57], [69.2, 15, 28, 40, 55], [69.7, 23, 35, 48, 66],
  [70.3, 28, 40, 54], [70.9, 22, 35, 49, 63], [71.3, 31, 45, 58], [71.9, 25, 38, 52, 67],
  [72.3, 34, 47, 61], [72.9, 27, 41, 56, 70], [73.3, 36, 50, 64], [73.9, 30, 44, 59, 74],
  [74.3, 39, 53, 68], [74.9, 33, 48, 62, 77], [75.3, 42, 57, 71], [75.9, 37, 51, 66, 80],
  [76.3, 45, 60, 74], [76.9, 40, 55, 69, 84], [77.3, 48, 63, 78], [77.9, 44, 58, 73, 88],
  [78.3, 52, 67, 82], [78.9, 47, 62, 77], [79.3, 55, 70, 86], [79.9, 50, 65, 81],
];

const humRatio = (p: number) => (0.622 * p) / (14.696 - p);
const satAt = (t: number) => humRatio(satPressure[tableTemps.indexOf(t)]);
const pts = (arr: number[][]) => arr.map(([x, y]) => ({ x, y }));

const satCurve = tableTemps.map((t, i) => [t, humRatio(satPressure[i])]);
const rhCurves = rhLevels.map((rh) => tableTemps.map((t, i) => [t, humRatio((satPressure[i] * rh) / 100)]));
const cloudPoints = [...cloudCold, ...cloudCool, ...cloudMild, ...cloudWarm, ...cloudHot, ...cloudLow].flatMap(([t, ...ws]) =>
  ws.map((w) => ({ x: t, y: w / 10000 })),
);

const noDot = () => <g />;
const GRID = '#4a4a4a';

const path = (key: string, data: number[][], stroke: string, width: number, opts: any = {}) => (
  <Scatter
    key={key}
    data={pts(data)}
    shape={noDot}
    isAnimationActive={false}
    line={{ stroke, strokeWidth: width, strokeDasharray: opts.dash, strokeLinejoin: 'miter', strokeLinecap: 'butt', fill: 'none' }}
    lineJointType={opts.curve || 'linear'}
  />
);

const polygon = (key: string, data: number[][], fill: string) => (
  <Scatter
    key={key}
    data={pts(data)}
    shape={noDot}
    isAnimationActive={false}
    line={(lp: any) => (
      <path d={lp.points.map((p: any, i: number) => `${i ? 'L' : 'M'}${p.x},${p.y}`).join(' ') + 'Z'} fill={fill} stroke="none" />
    )}
  />
);

const XTick = (p: any) => (
  <text x={p.x} y={p.y + 43} textAnchor="middle" fontFamily={FONT} fontSize={32} fontWeight="bold" fill="#000">
    {p.payload.value}
  </text>
);

const YTick = (p: any) => (
  <text x={p.x + 5} y={p.y + 1} textAnchor="start" fontFamily={FONT} fontSize={32} fontWeight="bold" fill="#000">
    {Number(p.payload.value).toFixed(3)}
  </text>
);

const Txt = ({ x, y, size = 32.5, color = '#000', weight = 'bold', anchor = 'start', children }: any) => (
  <text x={x} y={y + size * 0.358} fontFamily={FONT} fontSize={size} fontWeight={weight} fill={color} textAnchor={anchor} style={{ whiteSpace: 'pre' }}>
    {children}
  </text>
);

export default function App() {
  const winterFill = [...winterLeft.slice().reverse(), ...winterSatEdge.slice(1), ...winterRight.slice(1)];
  const summerFill = [...summerLeft.slice().reverse(), ...summerSatEdge.slice(1), ...summerTop.slice(1), ...summerRight.slice(1)];

  return (
    <div style={{ position: 'absolute', left: 0, top: 0, width: 3471, height: 2070, background: '#fff', overflow: 'hidden' }}>
      <div style={{ position: 'absolute', left: 25, top: 22, width: 3425, height: 2028, background: '#F0F0F0', borderTop: '3px solid #808080' }} />
      <div style={{ position: 'absolute', left: 69, top: 96, width: 3232, height: 1857, background: '#fff', border: '2px solid #333', boxSizing: 'border-box' }} />
      <div style={{ position: 'absolute', left: 0, top: 0 }}>
        <ComposedChart width={3471} height={2070} margin={{ top: 97, left: 70, right: 71, bottom: 59 }}>
          <XAxis type="number" dataKey="x" domain={[10, 110]} ticks={dryBulbTicks} interval={0} allowDataOverflow
            tickLine={false} axisLine={false} tickSize={6} tickMargin={2} height={60} tick={XTick} />
          <YAxis type="number" dataKey="y" orientation="right" domain={[0, 0.03]} ticks={humidityTicks} interval={0} allowDataOverflow
            tickLine={false} axisLine={false} tickSize={6} tickMargin={2} width={100} tick={YTick} />

          {polygon('winter', winterFill, '#E6E8FA')}
          {polygon('summer', summerFill, '#F4E8FA')}

          {dryBulbGrid.map((t) => path(`db${t}`, [[t, 0], [t, satAt(t)]], GRID, 2))}
          {humidityTicks.map((w, i) => path(`hr${i}`, [[ratioLineStart[i], w], [110, w]], GRID, 2))}
          {rhCurves.map((c, i) => path(`rh${i}`, c, GRID, 2, { curve: 'monotoneX' }))}
          {wetBulbTemps.map((t, i) => path(`wb${t}`, [[t, satAt(t)], wetBulbEnds[i]], GRID, 2))}
          {path('sat', satCurve, '#3a3a3a', 2.5, { curve: 'monotoneX' })}
          <Scatter
            data={pts(dehumidEdge)}
            shape={noDot}
            isAnimationActive={false}
            line={(lp: any) => (
              <g transform="translate(2,4)">
                <Curve type="monotoneX" points={lp.points} stroke="#00CCCC" strokeWidth={5} fill="none" />
              </g>
            )}
          />

          <Scatter
            data={dewPointRatios.map((w, i) => ({ x: 110, y: w, label: dewPointTemps[i] }))}
            isAnimationActive={false}
            shape={(p: any) => (
              <g>
                <line x1={p.cx - 16} y1={p.cy} x2={p.cx} y2={p.cy} stroke="#333" strokeWidth={2} />
                <text x={p.cx - 33} y={p.cy + 17} textAnchor="end" fontFamily={FONT} fontSize={30} fontWeight="bold" fill="#444">
                  {p.payload.label}
                </text>
              </g>
            )}
          />
          <Scatter
            data={wetBulbLabels.map((t) => ({ x: t, y: satAt(t), label: t }))}
            isAnimationActive={false}
            shape={(p: any) => (
              <text x={p.cx - 4} y={p.cy + 3} textAnchor="end" fontFamily={FONT} fontSize={30} fontWeight="bold" fill="#333">
                {p.payload.label}
              </text>
            )}
          />
          <Scatter
            data={[{ x: 89.3, y: 0.027 }]}
            isAnimationActive={false}
            shape={(p: any) => (
              <text x={p.cx} y={p.cy + 11} textAnchor="middle" fontFamily={FONT} fontSize={30} fontWeight="bold" fill="#444">
                90%
              </text>
            )}
          />

          <Scatter
            data={cloudPoints}
            isAnimationActive={false}
            shape={(p: any) => <rect x={p.cx - 3.5} y={p.cy - 3.5} width={7} height={7} fill="#006600" />}
          />

          {path('solar', solarLine, '#CC00FF', 9, { dash: '20 12' })}
          {path('wind-arrow', windArrow, '#663300', 9)}
          {path('wind-head', windHead, '#663300', 9)}
          {path('wind', windLine, '#663300', 10)}
          {path('mass-base', massBase, '#FF9900', 14)}
          {path('mass-top', massTop, '#FF9900', 10)}
          {path('mass-right', massRight, '#FF9900', 10)}
          {path('flush-right', flushRight, '#FF9900', 10)}
          {path('fan', fanVent, '#00CC00', 8)}
          {path('natural', naturalVent, '#006600', 8)}
          {path('direct', directEvap, '#000099', 11)}
          {path('two-stage', twoStageEvap, '#000033', 12)}
          {path('shade', shadingLine, '#9900CC', 9)}
          {path('shade-head', shadingHead, '#9900CC', 9)}
          {path('dehumid-red', dehumidBand, '#FF0000', 14)}
          {path('dehumid', dehumidBand, '#00CCCC', 9)}
          {path('comfort-base', comfortBase, '#0000FF', 14)}
          {path('winter-left', winterLeft, '#0000FF', 13)}
          {path('winter-right', winterRight, '#0000FF', 13)}
          {path('summer-left', summerLeft, '#0000FF', 13)}
          {path('summer-top', summerTop, '#0000FF', 14)}
          {path('summer-right', summerRight, '#0000FF', 13)}

          <Scatter
            data={zoneLabelAt.map(([x, y], i) => ({ x, y, label: zoneLabelText[i], color: zoneLabelColor[i] }))}
            isAnimationActive={false}
            shape={(p: any) => (
              <text x={p.cx} y={p.cy + 16.5} textAnchor="middle" fontFamily={FONT} fontSize={46} fontWeight="bold" fill={p.payload.color}>
                {p.payload.label}
              </text>
            )}
          />
        </ComposedChart>
      </div>

      <svg width={3471} height={2070} style={{ position: 'absolute', left: 0, top: 0 }}>
        <Txt x={98} y={153} color="#333">DESIGN STRATEGIES:  JANUARY through DECEMBER</Txt>
        <rect x={97} y={180} width={964} height={910} fill="#FFFFCC" stroke="#444" strokeWidth={2} />
        {strategyNames.map((name, i) => {
          const y = 210.5 + 56.9 * i;
          const c = strategyColors[i];
          return (
            <g key={name}>
              <Txt x={209} y={y} color={c} anchor="end">{strategyPercent[i]}</Txt>
              <Txt x={267} y={y} color={c} anchor="end">{String(i + 1)}</Txt>
              <Txt x={282} y={y} color={c}>{`${name}(${strategyHours[i]} hrs)`}</Txt>
            </g>
          );
        })}
        <Txt x={209} y={1146} color="#333" anchor="end">100.0%</Txt>
        <Txt x={233} y={1146} color="#333">Comfortable Hours using Selected Strategies</Txt>
        <Txt x={233} y={1203} color="#333">(8759 out of 8760 hrs)</Txt>
        <Txt x={106} y={1291} color="#0000FF">Comfort Zones show:</Txt>
        <Txt x={136} y={1348} color="#0000FF">Summer clothing on right,</Txt>
        <Txt x={136} y={1404} color="#0000FF">Winter clothing on left.</Txt>

        <Txt x={2295} y={75} anchor="middle">RELATIVE HUMIDITY</Txt>
        <Txt x={2624} y={75} anchor="middle">100%</Txt>
        <Txt x={2882} y={75} anchor="middle">80%</Txt>
        <Txt x={3171} y={75} anchor="middle">60%</Txt>

        <Txt x={2105} y={446} size={31} color="#444">WET-BULB</Txt>
        <Txt x={2105} y={494} size={31} color="#444">TEMPERATURE</Txt>
        <Txt x={2105} y={542} size={31} color="#444">DEG. F</Txt>

        <text x={3208} y={1066} dy={11.5} transform="rotate(-90 3208 1066)" textAnchor="middle" fontFamily={FONT} fontSize={32} fill="#555">
          DEW POINT TEMPERATURE, DEG. F
        </text>
        <text x={3431} y={1078} dy={11.5} transform="rotate(-90 3431 1078)" textAnchor="middle" fontFamily={FONT} fontSize={32} fontWeight="bold" fill="#000">
          HUMIDITY RATIO
        </text>
        <Txt x={1686} y={2039} anchor="middle">DRY-BULB TEMPERATURE. DEG. F</Txt>
      </svg>
    </div>
  );
}
